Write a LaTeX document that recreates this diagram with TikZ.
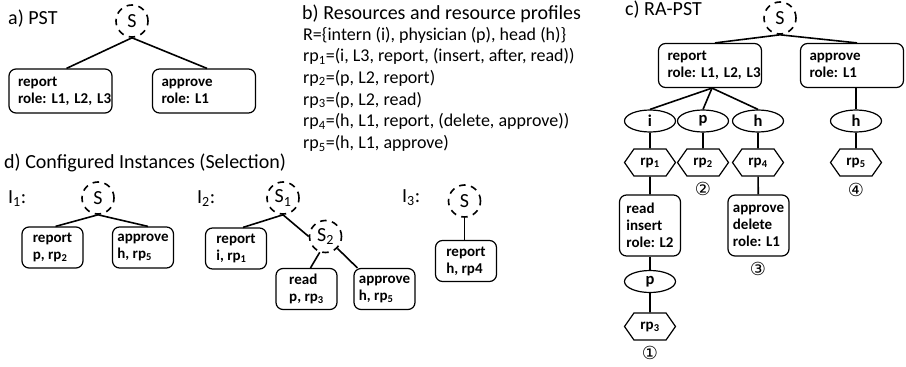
\documentclass[tikz,border=0pt]{standalone}
\usepackage{fontspec}
\setmainfont{Carlito}
\newfontfamily\circfont{DejaVu Sans}
\usetikzlibrary{shapes.geometric,shapes.symbols}

\tikzset{
  edge/.style={line width=1.6pt},
  subproc/.style={circle, draw, dash pattern=on 6.5pt off 5.5pt, line width=1.6pt,
    minimum size=32pt, inner sep=0pt, font=\fontsize{20}{24}\selectfont},
  boxfont/.style={font=\bfseries\fontsize{15}{17}\selectfont},
  wbox/.style={draw, rounded corners=7pt, line width=1.2pt, text width=85pt,
    inner xsep=9pt, align=left, minimum height=44pt, boxfont},
  nbox/.style={draw, rounded corners=7pt, line width=1.2pt, align=left,
    inner xsep=4pt, minimum width=61pt, minimum height=41pt, boxfont},
  res/.style={ellipse, draw, line width=1.2pt, minimum width=51pt,
    minimum height=22pt, inner sep=0pt, font=\bfseries\fontsize{16.5}{18}\selectfont},
  prof/.style={signal, signal to=east and west, signal pointer angle=110, draw,
    line width=1.2pt, minimum width=51pt, minimum height=27pt, inner sep=0pt, boxfont},
  num/.style={inner sep=0pt, font=\circfont\fontsize{18}{20}\selectfont},
  title/.style={anchor=base west, inner sep=0pt, font=\fontsize{20}{24}\selectfont},
  listline/.style={anchor=base west, inner sep=0pt, font=\fontsize{18}{21.7}\selectfont},
}

\begin{document}
\begin{tikzpicture}[x=1pt, y=-1pt]
\path[use as bounding box, fill=white] (0,0) rectangle (906,367);

% a) process structure tree
\node[title] (ta) at (8,24) {a) PST};
\node[subproc] (sa) at (132,21) {S};
\node[wbox] (ra) at (60.5,91) {report\\role:~L1,~L2,~L3};
\node[wbox] (aa) at (204,91) {approve\\role:~L1};
\draw[edge] ([xshift=6pt]ra.north) -- (sa.south) -- ([xshift=3pt]aa.north);

% b) resources and resource profiles
\node[title] (tb) at (302,19.5) {b) Resources and resource profiles};
\node[listline] (l0) at (303,40) {R=\{intern (i), physician (p), head (h)\}};
\node[listline] (l1) at (303,61.7) {rp\textsubscript{1}=(i, L3, report, (insert, after, read))};
\node[listline] (l2) at (303,83.4) {rp\textsubscript{2}=(p, L2, report)};
\node[listline] (l3) at (303,105.1) {rp\textsubscript{3}=(p, L2, read)};
\node[listline] (l4) at (303,126.8) {rp\textsubscript{4}=(h, L1, report, (delete, approve))};
\node[listline] (l5) at (303,148.5) {rp\textsubscript{5}=(h, L1, approve)};

% c) resource-aware process structure tree
\node[title] (tc) at (625,15) {c) RA-PST};
\node[subproc] (sc) at (780,18) {S};
\node[wbox] (rc) at (710,65.5) {report\\role:~L1,~L2,~L3};
\node[wbox] (ac) at (852,65.5) {approve\\role:~L1};
\draw[edge] ([xshift=5pt]rc.north) -- (sc.south) -- ([xshift=5pt]ac.north);

\node[res] (ci) at (650,121) {i};
\node[res] (cp) at (703,121) {p};
\node[res] (ch) at (758,121) {h};
\node[res] (ch2) at (856,121) {h};
\draw[edge] (ci.north) -- ([xshift=2pt]rc.south) -- (ch.north);
\draw[edge] ([xshift=2pt]rc.south) -- (cp.north);
\draw[edge] (ch2) -- (ch2 |- ac.south);

\node[prof] (p1) at (650,162.5) {rp\textsubscript{1}};
\node[prof] (p2) at (703,162.5) {rp\textsubscript{2}};
\node[prof] (p4) at (758,162.5) {rp\textsubscript{4}};
\node[prof] (p5) at (856,162.5) {rp\textsubscript{5}};
\draw[edge] (ci) -- (p1);
\draw[edge] (cp) -- (p2);
\draw[edge] (ch) -- (p4);
\draw[edge] (ch2) -- (p5);

\node[num] (n2) at (703,189) {②};
\node[num] (n4) at (856,190) {④};

\node[nbox, minimum height=61pt] (rd) at (650,225.5) {read\\insert\\role: L2};
\node[nbox, minimum height=61pt] (ad) at (758.5,225.5) {approve\\delete\\role: L1};
\draw[edge] (p1) -- (rd);
\draw[edge] (p4) -- (ad);
\node[num] (n3) at (758,269) {③};

\node[res] (cp2) at (650,281.5) {p};
\node[prof] (p3) at (650,326.5) {rp\textsubscript{3}};
\draw[edge] (rd) -- (cp2);
\draw[edge] (cp2) -- (p3);
\node[num] (n1) at (650,353) {①};

% d) configured instances
\node[title] (td) at (4,168) {d) Configured Instances (Selection)};

% instance 1
\node[title] (i1) at (8,203) {I\textsubscript{1}:};
\node[subproc] (s1) at (98,198) {S};
\node[nbox] (r1) at (52.5,247.5) {report\\p, rp\textsubscript{2}};
\node[nbox] (a1) at (143,247.5) {approve\\h, rp\textsubscript{5}};
\draw[edge] ([xshift=3pt]r1.north) -- (s1.south) -- ([xshift=5pt]a1.north);

% instance 2
\node[title] (i2) at (197,203) {I\textsubscript{2}:};
\node[subproc] (s21) at (283,198) {S\textsubscript{1}};
\node[subproc] (s22) at (325.5,236.5) {S\textsubscript{2}};
\node[nbox] (r2) at (236,248.5) {report\\i, rp\textsubscript{1}};
\node[nbox] (rd2) at (306.5,289) {read\\p, rp\textsubscript{3}};
\node[nbox] (a2) at (384.5,289) {approve\\h, rp\textsubscript{5}};
\draw[edge] ([xshift=7pt]r2.north) -- (s21.south) -- (s22.west);
\draw[edge] (s22.250) -- ([xshift=4pt]rd2.north);
\draw[edge] (s22.-45) -- ([xshift=4pt]a2.north west);

% instance 3
\node[title] (i3) at (402,202) {I\textsubscript{3}:};
\node[subproc] (s3) at (464.5,201) {S};
\node[nbox] (r3) at (466,261) {report\\h, rp4};
\draw[edge] (s3) -- (s3 |- r3.north);
\end{tikzpicture}
\end{document}
